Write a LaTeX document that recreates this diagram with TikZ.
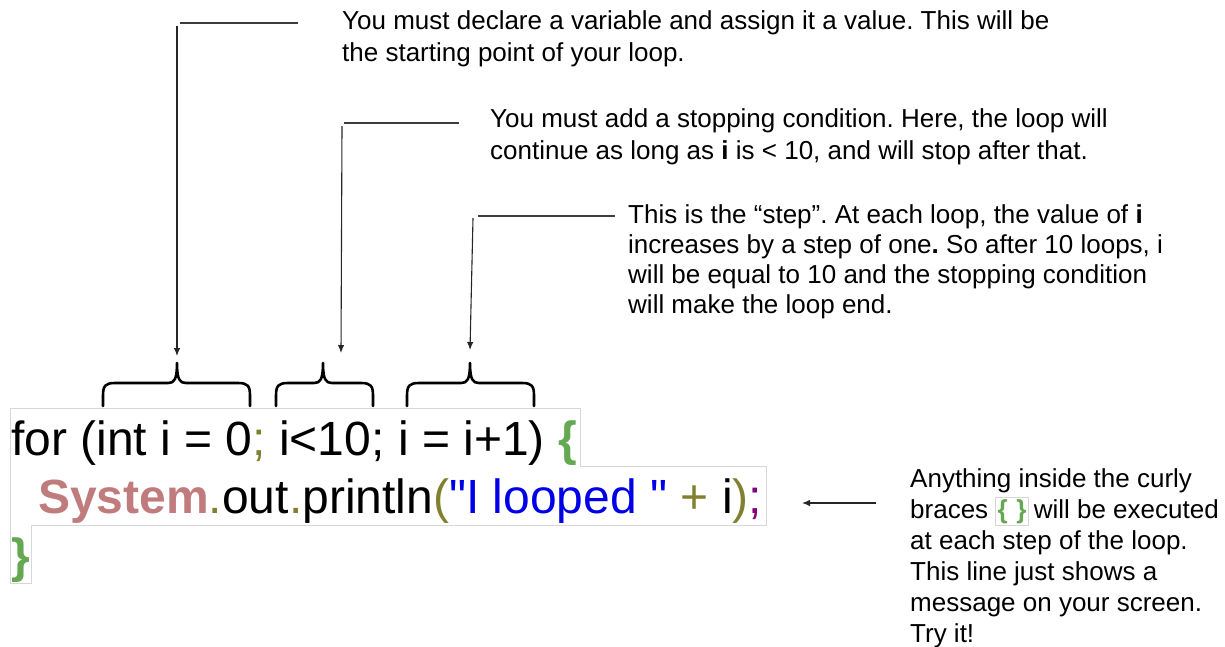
\documentclass[tikz,border=0pt]{standalone}
\usepackage{fontspec}
\setmainfont{Liberation Sans}
\newfontfamily\codefont{Liberation Sans}
\usetikzlibrary{arrows.meta}
\definecolor{sysc}{RGB}{192,124,124}
\definecolor{olivec}{RGB}{128,128,48}
\definecolor{strblue}{RGB}{0,0,230}
\definecolor{purp}{RGB}{128,0,128}
\definecolor{cgreen}{RGB}{100,168,82}
\definecolor{boxgray}{RGB}{215,215,215}
\definecolor{linegray}{RGB}{60,60,60}
\frenchspacing
\newcommand\olv[1]{\textcolor{olivec}{#1}}
\newcommand\cbr[1]{\textcolor{cgreen}{\textbf{#1}}}
\newcommand\codebrace[3]{%
  \draw[bracestyle] (#1,406) -- (#1,396) .. controls (#1,386) and ({#1+2},383) .. ({#1+12},383)
    -- ({#2-9},383) .. controls ({#2-3},383) and (#2,380) .. (#2,363)
    .. controls (#2,380) and ({#2+3},383) .. ({#2+9},383)
    -- ({#3-12},383) .. controls ({#3-2},383) and (#3,386) .. (#3,396) -- (#3,406);}
\begin{document}
\begin{tikzpicture}[x=1pt,y=-1pt,
  note/.style={font=\fontsize{26}{32}\selectfont, align=left, inner sep=0pt, anchor=base west, text=black},
  codeline/.style={font=\codefont\fontsize{48}{58}\selectfont, inner sep=0pt, anchor=base west},
  leader/.style={draw=linegray, line width=1.1pt},
  pointer/.style={draw=black!85, line width=1.1pt, -{Latex[length=8pt,width=6.5pt]}},
  bracestyle/.style={draw=black, line width=2.6pt, line cap=round, line join=round},
  codebox/.style={draw=boxgray, line width=0.9pt}]
\useasboundingbox (0,0) rectangle (1225,646);

% code outline
\draw[codebox] (10,408) -- (580,408) -- (580,466) -- (766,466) -- (766,525) -- (31,525) -- (31,583) -- (10,583) -- cycle;

% code lines
\node[codeline] (c1) at (11,455) {for (int i = 0\olv{;} i<10; i = i+1) \cbr{\{}};
\node[codeline] (c2) at (38,513) {\textcolor{sysc}{\textbf{System}}\olv{.}out\olv{.}println\olv{(}\textcolor{strblue}{"I looped "} \olv{+} i\olv{)}\textcolor{purp}{;}};
\node[codeline] (c3) at (11,572) {\cbr{\}}};

% braces
\codebrace{103}{177}{250}
\codebrace{276}{323}{373}
\codebrace{407}{470}{534}

% annotation texts (anchor = baseline of last line)
\node[note] (t1) at (342,61) {You must declare a variable and assign it a value. This will be\\the starting point of your loop.};
\node[note] (t2) at (490,159) {You must add a stopping condition. Here, the loop will\\continue as long as \textbf{i} is < 10, and will stop after that.};
\node[note, font=\fontsize{26}{30}\selectfont] (t3) at (628,313) {This is the “step”. At each loop, the value of \textbf{i}\\increases by a step of one\textbf{.} So after 10 loops, i\\will be equal to 10 and the stopping condition\\will make the loop end.};
\node[note, font=\fontsize{26}{31}\selectfont] (t4) at (910,642) {Anything inside the curly\\braces {\setlength\fboxsep{1.5pt}\setlength\fboxrule{0.6pt}\fcolorbox{boxgray}{white}{\cbr{\{\,\,\}}}}\hspace{-2pt} will be executed\\at each step of the loop.\\This line just shows a\\message on your screen.\\Try it!};

% connector coordinates
\coordinate (h1a) at (180,23); \coordinate (h1b) at (298,23);
\coordinate (v1a) at (177,26); \coordinate (v1b) at (177,356);
\coordinate (h2a) at (344,123); \coordinate (h2b) at (459,123);
\coordinate (v2a) at (342,126); \coordinate (v2b) at (341,353);
\coordinate (h3a) at (478,216); \coordinate (h3b) at (615,216);
\coordinate (v3a) at (473,218); \coordinate (v3b) at (470,350);
\coordinate (a4a) at (876,503); \coordinate (a4b) at (802,503);

\draw[leader] (h1a) -- (h1b);
\draw[pointer] (v1a) -- (v1b);
\draw[leader] (h2a) -- (h2b);
\draw[pointer] (v2a) -- (v2b);
\draw[leader] (h3a) -- (h3b);
\draw[pointer] (v3a) -- (v3b);
\draw[pointer] (a4a) -- (a4b);
\end{tikzpicture}
\end{document}
